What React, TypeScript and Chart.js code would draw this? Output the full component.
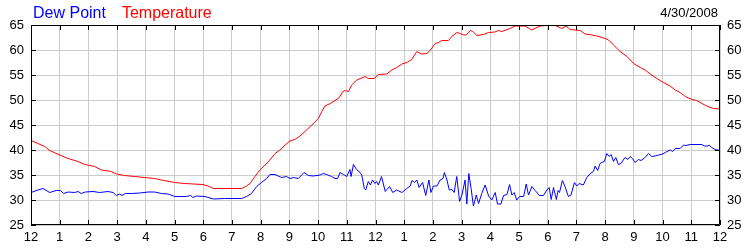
import React, { useEffect, useRef } from "react";
import { Chart, registerables } from "chart.js";

Chart.register(...registerables);

const hourLabels = ["12","1","2","3","4","5","6","7","8","9","10","11","12","1","2","3","4","5","6","7","8","9","10","11","12"];
const yTicks = [25, 30, 35, 40, 45, 50, 55, 60, 65];
const dateLabel = "4/30/2008";
const seriesNames = ["Dew Point", "Temperature"];

const dewHours = [0,0.24,0.42,0.65,0.88,1.02,1.14,1.29,1.52,1.64,1.75,1.89,2.16,2.39,2.68,2.86,2.97,3.09,3.17,3.29,3.5,3.79,4.08,4.31,4.54,4.77,5.01,5.41,5.56,5.64,5.76,6.06,6.35,6.75,7.34,7.51,7.68,7.86,8.03,8.21,8.32,8.5,8.61,8.73,8.9,9.02,9.14,9.31,9.43,9.51,9.66,9.83,10.07,10.18,10.3,10.47,10.59,10.68,10.76,10.88,11.0,11.11,11.15,11.23,11.34,11.46,11.52,11.61,11.66,11.75,11.82,11.9,11.98,12.04,12.1,12.21,12.34,12.49,12.6,12.74,12.92,13.09,13.21,13.27,13.36,13.44,13.52,13.64,13.75,13.86,13.93,14.02,14.14,14.25,14.35,14.4,14.49,14.57,14.66,14.74,14.83,14.93,15.01,15.12,15.18,15.25,15.33,15.41,15.51,15.59,15.7,15.82,15.94,16.05,16.17,16.25,16.37,16.46,16.58,16.67,16.75,16.83,16.92,17.02,17.16,17.25,17.33,17.45,17.56,17.71,17.85,17.97,18.05,18.12,18.2,18.3,18.36,18.41,18.51,18.6,18.72,18.81,18.93,19.01,19.09,19.24,19.36,19.48,19.59,19.65,19.74,19.82,19.88,19.97,20.06,20.14,20.21,20.29,20.37,20.46,20.55,20.69,20.79,20.87,20.95,21.04,21.16,21.25,21.39,21.51,21.62,21.74,21.86,22.0,22.15,22.27,22.35,22.44,22.61,22.73,22.81,22.96,23.37,23.45,23.58,23.62,23.71,23.83,24.0];
const dewValues = [31.5,32.0,32.3,31.5,31.9,31.9,31.3,31.6,31.5,31.7,31.3,31.6,31.7,31.5,31.7,31.5,30.9,31.2,30.9,31.3,31.3,31.4,31.6,31.6,31.3,31.2,30.7,30.7,30.9,30.5,30.8,30.7,30.2,30.3,30.3,30.7,31.3,32.7,33.5,34.3,35.1,35.1,34.8,34.5,34.7,34.3,34.5,34.3,35.0,35.5,34.9,34.8,35.0,35.3,35.1,34.7,34.3,34.3,35.5,35.1,34.7,36.1,34.7,37.1,36.1,35.5,35.0,32.3,32.0,33.7,33.0,34.0,33.3,33.7,33.0,34.7,31.7,32.7,31.5,32.0,31.5,32.3,32.8,33.9,33.5,34.0,32.5,33.5,30.9,34.0,31.5,32.8,32.8,34.0,34.3,35.5,34.0,32.0,32.1,31.5,34.7,29.7,31.0,34.0,29.2,35.3,32.3,28.8,31.0,29.3,31.3,33.0,30.8,30.0,31.5,29.2,29.2,30.9,31.1,33.1,31.0,31.5,30.0,30.7,30.7,33.2,31.0,32.7,31.9,30.9,30.9,32.0,32.5,30.1,32.5,30.1,31.9,31.5,33.9,32.7,30.7,31.0,33.5,32.8,33.3,33.0,34.5,35.3,35.7,36.8,35.9,37.3,37.5,37.7,39.3,38.7,39.1,37.7,38.5,37.1,37.3,38.5,38.1,38.7,38.3,37.5,38.1,37.9,38.5,39.3,38.7,38.8,39.0,39.2,39.7,40.0,39.7,40.3,40.3,41.0,40.9,41.1,41.1,40.8,40.8,41.0,40.5,40.1,39.9];

const tempHours = [0,0.24,0.48,0.65,1.0,1.29,1.64,1.87,2.22,2.45,2.8,2.97,3.26,3.61,3.96,4.31,4.54,5.0,5.35,5.99,6.17,6.35,7.34,7.51,7.63,7.8,7.97,8.15,8.32,8.5,8.67,8.85,9.02,9.19,9.37,9.54,9.78,10.01,10.13,10.24,10.42,10.59,10.74,10.86,10.96,11.06,11.17,11.35,11.64,11.75,11.95,12.1,12.39,12.57,12.74,12.92,13.09,13.26,13.44,13.61,13.79,13.9,14.08,14.19,14.31,14.54,14.66,14.83,14.95,15.07,15.16,15.3,15.39,15.53,15.76,15.93,16.16,16.28,16.4,16.69,16.86,17.21,17.44,17.73,17.97,18.26,18.49,18.64,18.78,18.95,19.13,19.3,19.54,19.71,20.0,20.12,20.29,20.52,20.76,20.99,21.22,21.39,21.57,21.8,22.03,22.26,22.44,22.61,22.79,23.02,23.19,23.37,23.54,23.77,24.0];
const tempValues = [41.9,41.3,40.7,39.9,39.0,38.3,37.7,37.1,36.7,36.0,35.7,35.2,34.9,34.7,34.5,34.3,34.0,33.5,33.3,33.1,32.8,32.3,32.3,32.8,33.3,34.7,36.0,37.0,38.0,39.3,40.0,41.0,41.8,42.1,42.8,43.7,45.0,46.3,47.7,48.8,49.3,49.9,50.5,51.7,51.9,51.7,53.0,54.0,54.7,54.3,54.3,55.1,55.2,56.0,56.5,57.2,57.5,58.1,59.7,59.2,59.3,59.9,61.3,61.5,61.9,61.9,62.7,63.5,63.3,63.0,63.0,63.9,63.7,62.9,63.1,63.5,63.6,63.9,63.7,64.3,64.8,64.8,64.0,64.8,64.9,64.9,64.3,64.8,64.1,64.0,63.9,63.2,63.0,62.8,62.3,62.0,61.0,59.7,58.7,57.3,56.5,56.0,55.2,54.3,53.5,52.8,52.0,51.5,50.7,50.1,49.9,49.3,48.8,48.3,48.2];

const FONT = '"Liberation Sans", Arial, sans-serif';

const framePlugin = {
  id: "frame",
  afterDatasetsDraw(chart: any) {
    const { ctx, chartArea } = chart;
    const xs = chart.scales.x;
    const ys = chart.scales.y;
    const { left, right, top, bottom } = chartArea;
    ctx.save();
    ctx.strokeStyle = "#000";
    ctx.lineWidth = 1;
    ctx.beginPath();
    ctx.rect(Math.round(left) + 0.5, Math.round(top) + 0.5, Math.round(right - left) - 1, Math.round(bottom - top) - 1);
    ctx.stroke();
    ctx.beginPath();
    hourLabels.forEach((_, i) => {
      const px = Math.round(xs.getPixelForValue(i)) + 0.5;
      ctx.moveTo(px, top);
      ctx.lineTo(px, top + 5);
      ctx.moveTo(px, bottom);
      ctx.lineTo(px, bottom - 5);
    });
    yTicks.forEach((v) => {
      const py = Math.round(ys.getPixelForValue(v)) + 0.5;
      ctx.moveTo(left, py);
      ctx.lineTo(left + 5, py);
      ctx.moveTo(right, py);
      ctx.lineTo(right - 5, py);
    });
    ctx.stroke();
    ctx.restore();
  },
  afterDraw(chart: any) {
    const { ctx } = chart;
    ctx.save();
    ctx.textBaseline = "alphabetic";
    ctx.font = `16px ${FONT}`;
    ctx.textAlign = "left";
    ctx.fillStyle = "#0000ff";
    ctx.fillText(seriesNames[0], 33, 18);
    const w = ctx.measureText(seriesNames[0]).width;
    ctx.fillStyle = "#ff0000";
    ctx.fillText(seriesNames[1], 33 + w + 16, 18);
    ctx.font = `13px ${FONT}`;
    ctx.fillStyle = "#000";
    ctx.textAlign = "right";
    ctx.fillText(dateLabel, 718, 17);
    ctx.restore();
  },
};

export default function App() {
  const ref = useRef<HTMLCanvasElement | null>(null);
  useEffect(() => {
    document.body.style.margin = "0";
    const canvas = ref.current;
    if (!canvas) return;
    const dew = dewHours.map((h, i) => ({ x: h, y: dewValues[i] }));
    const temp = tempHours.map((h, i) => ({ x: h, y: tempValues[i] }));
    const tickFont = { family: FONT, size: 13 };
    const chart = new Chart(canvas, {
      type: "line",
      data: {
        datasets: [
          { label: seriesNames[0], data: dew, borderColor: "#0000ff", borderWidth: 1, pointRadius: 0, tension: 0, fill: false },
          { label: seriesNames[1], data: temp, borderColor: "#ff0000", borderWidth: 1, pointRadius: 0, tension: 0, fill: false },
        ],
      },
      options: {
        responsive: false,
        animation: false,
        events: [],
        layout: { padding: { top: 25, left: 0, right: 0, bottom: 0 } },
        plugins: { legend: { display: false }, tooltip: { enabled: false }, title: { display: false } },
        scales: {
          x: {
            type: "linear",
            min: 0,
            max: 24,
            afterFit: (s: any) => { s.height = 25; },
            afterBuildTicks: (s: any) => { s.ticks = hourLabels.map((_, i) => ({ value: i })); },
            ticks: {
              stepSize: 1,
              autoSkip: false,
              maxRotation: 0,
              padding: 5,
              color: "#000",
              font: tickFont,
              callback: (v: any) => hourLabels[Math.round(Number(v))],
            },
            grid: { color: "#cccccc", drawTicks: false },
            border: { display: false },
          },
          y: {
            position: "left",
            min: 25,
            max: 65,
            afterFit: (s: any) => { s.width = 31; },
            afterBuildTicks: (s: any) => { s.ticks = yTicks.map((v) => ({ value: v })); },
            ticks: { stepSize: 5, padding: 7, color: "#000", font: tickFont },
            grid: { color: "#cccccc", drawTicks: false },
            border: { display: false },
          },
          y2: {
            position: "right",
            min: 25,
            max: 65,
            afterFit: (s: any) => { s.width = 30; },
            afterBuildTicks: (s: any) => { s.ticks = yTicks.map((v) => ({ value: v })); },
            ticks: { stepSize: 5, padding: 7, color: "#000", font: tickFont },
            grid: { drawOnChartArea: false, drawTicks: false },
            border: { display: false },
          },
        },
      },
      plugins: [framePlugin],
    });
    return () => chart.destroy();
  }, []);
  return (
    <div style={{ width: 750, height: 250, background: "#fff" }}>
      <canvas ref={ref} width={750} height={250} style={{ display: "block" }} />
    </div>
  );
}
